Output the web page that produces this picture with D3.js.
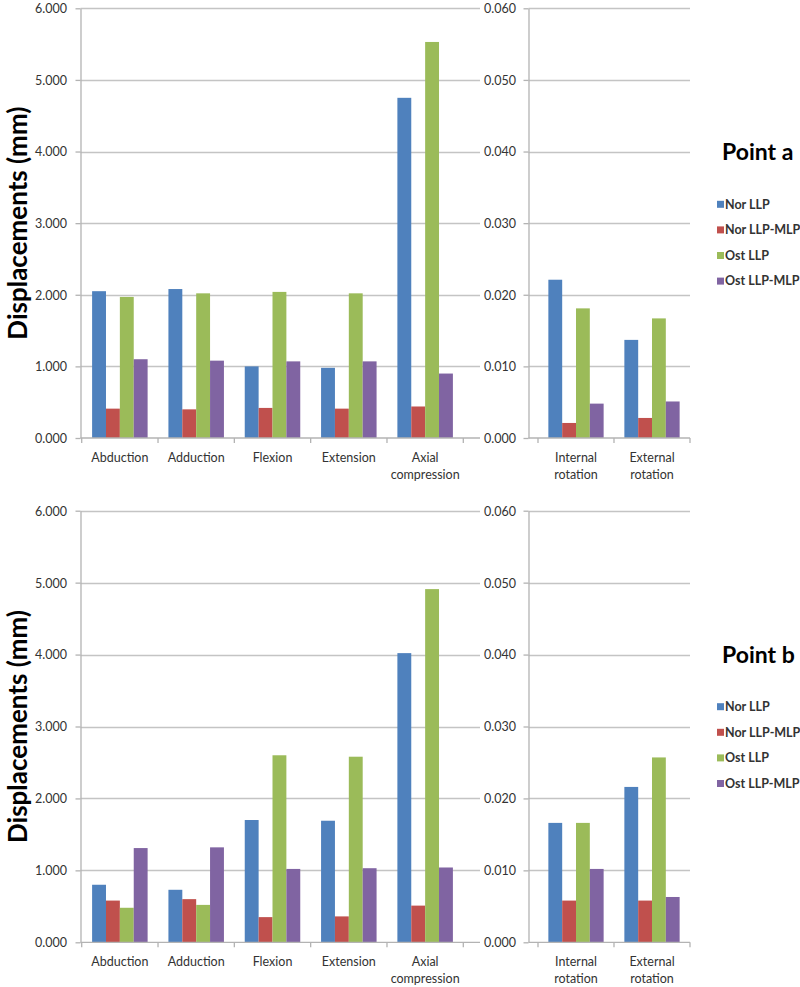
<!DOCTYPE html>
<html>
<head>
<meta charset="utf-8">
<script src="https://cdn.jsdelivr.net/npm/d3@7"></script>
<style>
  html, body { margin: 0; padding: 0; background: #fff; }
  svg { display: block; }
  text { font-family: Lato, "Open Sans", sans-serif; }
</style>
</head>
<body>
<svg id="chart" width="800" height="987"></svg>
<script>
// ---------- DATA ----------
const leftCategories = ["Abduction", "Adduction", "Flexion", "Extension", "Axial compression"];
const rightCategories = ["Internal rotation", "External rotation"];
const seriesNames = ["Nor LLP", "Nor LLP-MLP", "Ost LLP", "Ost LLP-MLP"];
const seriesColors = ["#4F81BD", "#C0504D", "#9BBB59", "#8064A2"];

const leftTicks = [0, 1, 2, 3, 4, 5, 6];
const rightTicks = [0, 0.01, 0.02, 0.03, 0.04, 0.05, 0.06];

// Point a – translations (mm)
const aNorLLP     = [2.05, 2.08, 1.00, 0.98, 4.75];
const aNorLLPMLP  = [0.41, 0.40, 0.42, 0.41, 0.44];
const aOstLLP     = [1.97, 2.02, 2.04, 2.02, 5.53];
const aOstLLPMLP  = [1.10, 1.08, 1.07, 1.07, 0.90];
// Point a – rotations
const aRotNorLLP    = [0.0221, 0.0137];
const aRotNorLLPMLP = [0.0021, 0.0028];
const aRotOstLLP    = [0.0181, 0.0167];
const aRotOstLLPMLP = [0.0048, 0.0051];

// Point b – translations (mm)
const bNorLLP     = [0.80, 0.73, 1.70, 1.69, 4.02];
const bNorLLPMLP  = [0.58, 0.60, 0.35, 0.36, 0.51];
const bOstLLP     = [0.48, 0.52, 2.60, 2.58, 4.91];
const bOstLLPMLP  = [1.31, 1.32, 1.02, 1.03, 1.04];
// Point b – rotations
const bRotNorLLP    = [0.0166, 0.0216];
const bRotNorLLPMLP = [0.0058, 0.0058];
const bRotOstLLP    = [0.0166, 0.0257];
const bRotOstLLPMLP = [0.0102, 0.0063];

const panels = [
  { title: "Point a", top: 8.3, bottom: 438,
    left: [aNorLLP, aNorLLPMLP, aOstLLP, aOstLLPMLP],
    right: [aRotNorLLP, aRotNorLLPMLP, aRotOstLLP, aRotOstLLPMLP] },
  { title: "Point b", top: 510.7, bottom: 942.3,
    left: [bNorLLP, bNorLLPMLP, bOstLLP, bOstLLPMLP],
    right: [bRotNorLLP, bRotNorLLPMLP, bRotOstLLP, bRotOstLLPMLP] }
];

// ---------- DRAW ----------
const svg = d3.select("#chart");
const gridColor = "#c4c4c4";
const axisColor = "#b3b3b3";
const textColor = "#333";
const fmt = d3.format(".3f");

function subChart(g, cats, seriesVals, ticks, yMax, axisX, bandStart, bandEnd, lineEnd, top, bottom, labelX) {
  const y = d3.scaleLinear().domain([0, yMax]).range([bottom, top]);
  const x = d3.scaleBand().domain(cats).range([bandStart, bandEnd]).paddingInner(0).paddingOuter(0);
  const w = x.bandwidth() / 5.5;
  const xs = d3.scaleBand().domain(seriesNames).range([0.75 * w, 4.75 * w]);

  // gridlines
  g.append("g").selectAll("line").data(ticks.slice(1)).join("line")
    .attr("x1", axisX).attr("x2", lineEnd)
    .attr("y1", d => Math.round(y(d)) + 0.5).attr("y2", d => Math.round(y(d)) + 0.5)
    .attr("stroke", gridColor).attr("stroke-width", 1.3);

  // bars
  seriesNames.forEach((s, si) => {
    g.append("g").selectAll("rect").data(seriesVals[si]).join("rect")
      .attr("x", (d, i) => x(cats[i]) + xs(s))
      .attr("width", xs.bandwidth())
      .attr("y", d => y(d))
      .attr("height", d => y(0) - y(d))
      .attr("fill", seriesColors[si]);
  });

  // y axis
  const ya = d3.axisLeft(y).tickValues(ticks).tickFormat(fmt).tickSize(5).tickSizeOuter(0);
  const yg = g.append("g").attr("transform", `translate(${axisX},0)`).call(ya);
  yg.select(".domain").attr("stroke", axisColor).attr("stroke-width", 1.3);
  yg.selectAll(".tick line").attr("stroke", axisColor).attr("stroke-width", 1.3);
  yg.selectAll(".tick text").attr("x", labelX - axisX).attr("fill", textColor)
    .style("font-size", "12.5px").attr("dy", "0.35em");

  // x axis line
  g.append("line").attr("x1", axisX).attr("x2", lineEnd)
    .attr("y1", y(0)).attr("y2", y(0)).attr("stroke", axisColor).attr("stroke-width", 1.3);
  // category boundary ticks
  const bounds = cats.map(c => x(c)).concat([bandEnd]);
  g.append("g").selectAll("line").data(bounds).join("line")
    .attr("x1", d => d).attr("x2", d => d)
    .attr("y1", y(0)).attr("y2", y(0) + 5)
    .attr("stroke", axisColor).attr("stroke-width", 1.3);
  // category labels
  const lab = g.append("g").selectAll("text").data(cats).join("text")
    .attr("x", c => x(c) + x.bandwidth() / 2)
    .attr("y", y(0) + 23.5)
    .attr("text-anchor", "middle").attr("fill", textColor).style("font-size", "12.5px");
  lab.each(function(c) {
    const words = c.split(" ");
    const t = d3.select(this);
    words.forEach((wd, i) => {
      t.append("tspan").attr("x", x(c) + x.bandwidth() / 2).attr("dy", i === 0 ? 0 : 17).text(wd);
    });
  });
}

panels.forEach(p => {
  const g = svg.append("g");
  // left chart: translations
  subChart(g, leftCategories, p.left, leftTicks, 6, 80.5, 81.7, 463.3, 480, p.top, p.bottom, 67);
  // right chart: rotations
  subChart(g, rightCategories, p.right, rightTicks, 0.06, 528.5, 538, 690, 690, p.top, p.bottom, 516);

  // y title
  const cy = (p.top + p.bottom) / 2;
  g.append("text")
    .attr("transform", `translate(27,${cy}) rotate(-90)`)
    .attr("text-anchor", "middle")
    .attr("fill", "#000").style("font-size", "26px").style("font-weight", "bold")
    .text("Displacements (mm)");

  // legend
  g.append("text").attr("x", 722).attr("y", p.top + 152)
    .attr("fill", "#000").style("font-size", "23px").style("font-weight", "bold")
    .text(p.title);
  const lg = g.append("g").selectAll("g").data(seriesNames).join("g")
    .attr("transform", (d, i) => `translate(717,${p.top + 196 + i * 25.6})`);
  lg.append("rect").attr("x", 0).attr("y", -3.5).attr("width", 7).attr("height", 7)
    .attr("fill", (d, i) => seriesColors[i]);
  lg.append("text").attr("x", 8).attr("y", 0).attr("dy", "0.35em")
    .attr("fill", textColor).style("font-size", "12.5px").style("font-weight", "bold")
    .text(d => d);
});
</script>
</body>
</html>
